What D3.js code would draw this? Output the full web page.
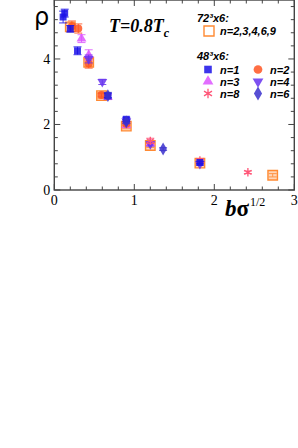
<!DOCTYPE html>
<html>
<head>
<meta charset="utf-8">
<script src="https://cdn.jsdelivr.net/npm/d3@7"></script>
<style>
  body { margin: 0; background: #fff; }
  svg { display: block; }
</style>
</head>
<body>
<div id="chart"></div>
<script>
// Tamaño de la figura
const width = 298;
const height = 448;

// Datos: [bσ^1/2, ρ, error]
const lat72 = [[0.20, 4.98, 0.12], [0.43, 3.90, 0.12], [0.59, 2.88, 0.08], [0.90, 1.95, 0.08],
               [1.20, 1.36, 0.06], [1.82, 0.82, 0.06], [2.73, 0.45, 0.05]];
const n1 = [[0.11, 5.28, 0.18], [0.13, 5.40, 0.12], [0.20, 4.92, 0.10], [0.29, 4.25, 0.12],
            [0.67, 2.88, 0.06], [0.90, 2.16, 0.06], [1.82, 0.84, 0.04]];
const n2 = [[0.22, 5.00, 0.16], [0.30, 4.93, 0.14], [0.43, 3.86, 0.14], [0.59, 2.90, 0.06],
            [0.90, 2.02, 0.06]];
const n3 = [[0.34, 4.62, 0.12], [0.43, 4.12, 0.16], [0.67, 2.84, 0.08], [0.90, 1.98, 0.08],
            [1.20, 1.42, 0.06]];
const n4 = [[0.43, 4.00, 0.12], [0.60, 3.30, 0.08], [0.90, 2.10, 0.06], [1.20, 1.40, 0.06],
            [1.82, 0.80, 0.04]];
const n6 = [[0.67, 2.88, 0.10], [0.90, 2.08, 0.06], [1.36, 1.25, 0.04]];
const n8 = [[1.20, 1.50, 0.08], [1.82, 0.90, 0.05], [2.42, 0.54, 0.04]];

const xTicks = [0, 1, 2, 3];
const yTicks = [0, 2, 4];

// Escalas
const x = d3.scaleLinear().domain([0, 3]).range([54.3, 294.3]);
const y = d3.scaleLinear().domain([0, 5.8]).range([190, 0]);

const svg = d3.select("#chart").append("svg")
    .attr("width", width)
    .attr("height", height);

// Ticks hacia dentro en los cuatro lados
const frame = svg.append("g").attr("stroke", "#444").attr("stroke-width", 1);
d3.range(0, 3.001, 0.2).forEach(v => {
    const major = Math.abs(v - Math.round(v)) < 1e-6;
    const len = major ? 6 : 3.5;
    frame.append("line").attr("x1", x(v)).attr("x2", x(v)).attr("y1", y(0)).attr("y2", y(0) - len);
    frame.append("line").attr("x1", x(v)).attr("x2", x(v)).attr("y1", y(5.8)).attr("y2", y(5.8) + len);
});
d3.range(0, 5.8, 0.4).forEach(v => {
    const major = Math.abs(v / 2 - Math.round(v / 2)) < 1e-6;
    const len = major ? 6 : 3.5;
    frame.append("line").attr("y1", y(v)).attr("y2", y(v)).attr("x1", x(0)).attr("x2", x(0) + len);
    frame.append("line").attr("y1", y(v)).attr("y2", y(v)).attr("x1", x(3)).attr("x2", x(3) - len);
});
svg.append("rect")
    .attr("x", x(0)).attr("y", y(5.8))
    .attr("width", x(3) - x(0)).attr("height", y(0) - y(5.8))
    .attr("fill", "none").attr("stroke", "#444").attr("stroke-width", 1.4);

// Etiquetas de los ejes
svg.append("g").selectAll("text").data(xTicks).enter().append("text")
    .attr("x", d => x(d)).attr("y", 205)
    .attr("text-anchor", "middle")
    .style("font", "14px 'Liberation Serif', serif")
    .text(d => d);
svg.append("g").selectAll("text").data(yTicks).enter().append("text")
    .attr("x", x(0) - 4).attr("y", d => y(d) + 5)
    .attr("text-anchor", "end")
    .style("font", "14px 'Liberation Serif', serif")
    .text(d => d);

svg.append("text").attr("x", 34).attr("y", 25)
    .style("font", "24px 'DejaVu Sans', sans-serif").text("ρ");

const xl = svg.append("text").attr("x", 225).attr("y", 216)
    .style("font", "bold italic 23px 'Liberation Serif', serif");
xl.append("tspan").text("b");
xl.append("tspan").style("font-style", "normal").text("σ");
xl.append("tspan").attr("dx", 1).attr("dy", -10).style("font", "12px 'Liberation Serif', serif").text("1/2");

const tl = svg.append("text").attr("x", 109).attr("y", 32)
    .style("font", "bold italic 18px 'Liberation Serif', serif");
tl.append("tspan").text("T=0.8T");
tl.append("tspan").attr("dy", 5).style("font-size", "12px").text("c");

// Series
const series = [
    { data: lat72, color: "#ff8a33", shape: d3.symbolSquare, size: 90, open: true },
    { data: n3, color: "#dd55ff", shape: d3.symbolTriangle, size: 42 },
    { data: n2, color: "#ff5522", shape: d3.symbolCircle, size: 50 },
    { data: n4, color: "#6633ee", shape: d3.symbolTriangle, size: 42, down: true },
    { data: n8, color: "#ff5577", shape: d3.symbolAsterisk, size: 50, stroke: true },
    { data: n1, color: "#1a10e8", shape: d3.symbolSquare, size: 48 },
    { data: n6, color: "#3a30cc", shape: d3.symbolDiamond, size: 48 }
];

function drawMarker(g, s, cx, cy, k) {
    const p = g.append("path")
        .attr("d", d3.symbol().type(s.shape).size(s.size * (k || 1))())
        .attr("transform", "translate(" + cx + "," + cy + ")" + (s.down ? " rotate(180)" : ""));
    if (s.open) {
        p.attr("fill", s.color).attr("fill-opacity", 0.35).attr("stroke", s.color).attr("stroke-width", 1.4);
    } else if (s.stroke) {
        p.attr("fill", "none").attr("stroke", s.color).attr("stroke-width", 1.3);
    } else {
        p.attr("fill", s.color).attr("fill-opacity", 0.85);
    }
    return p;
}

series.forEach(s => {
    const g = svg.append("g");
    s.data.forEach(d => {
        const cx = x(d[0]);
        const e = g.append("g").attr("stroke", s.color).attr("stroke-width", 1).attr("opacity", 0.85);
        e.append("line").attr("x1", cx).attr("x2", cx).attr("y1", y(d[1] - d[2])).attr("y2", y(d[1] + d[2]));
        e.append("line").attr("x1", cx - 4).attr("x2", cx + 4).attr("y1", y(d[1] - d[2])).attr("y2", y(d[1] - d[2]));
        e.append("line").attr("x1", cx - 4).attr("x2", cx + 4).attr("y1", y(d[1] + d[2])).attr("y2", y(d[1] + d[2]));
        drawMarker(g, s, cx, y(d[1]));
    });
});

// Leyenda
const legFont = "italic bold 11px 'Liberation Sans', sans-serif";
const leg = svg.append("g");
leg.append("text").attr("x", 197).attr("y", 22)
    .style("font", legFont)
    .text("72³x6:");
drawMarker(leg, { color: "#ff8a33", shape: d3.symbolSquare, size: 100, open: true }, 209, 31)
    .attr("fill", "none");
leg.append("text").attr("x", 220).attr("y", 35)
    .style("font", legFont)
    .text("n=2,3,4,6,9");

leg.append("text").attr("x", 197).attr("y", 60)
    .style("font", legFont)
    .text("48³x6:");

const legendItems = [
    { s: series[5], label: "n=1", col: 0, row: 0 },
    { s: series[2], label: "n=2", col: 1, row: 0 },
    { s: series[1], label: "n=3", col: 0, row: 1 },
    { s: series[3], label: "n=4", col: 1, row: 1 },
    { s: series[4], label: "n=8", col: 0, row: 2 },
    { s: series[6], label: "n=6", col: 1, row: 2 }
];
legendItems.forEach(it => {
    const mx = 208 + it.col * 50;
    const my = 69.5 + it.row * 12;
    drawMarker(leg, it.s, mx, my, 1.2);
    leg.append("text").attr("x", mx + 12).attr("y", my + 4)
        .style("font", legFont)
        .text(it.label);
});
</script>
</body>
</html>
